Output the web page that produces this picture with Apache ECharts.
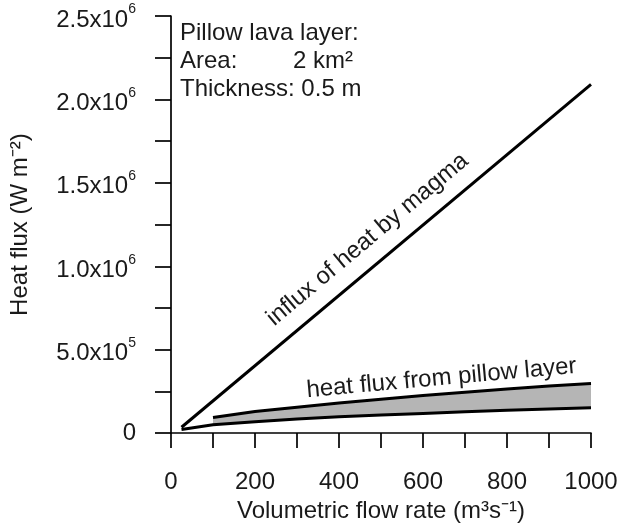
<!DOCTYPE html>
<html><head><meta charset="utf-8">
<script src="https://cdn.jsdelivr.net/npm/echarts@6/dist/echarts.min.js"></script>
<style>html,body{margin:0;padding:0;background:#fff}#c{width:627px;height:528px}</style>
</head><body><div id="c"></div>
<script>
// ---- data ----
const magmaX = [25, 1000];
const magmaY = [35000, 2090000];
const upperX = [100, 200, 300, 400, 500, 600, 700, 800, 900, 1000];
const upperY = [93000, 130000, 155000, 180000, 203000, 225000, 245000, 265000, 283000, 298000];
const lowerX = [25, 100, 200, 300, 400, 500, 600, 700, 800, 900, 1000];
const lowerY = [22000, 50000, 68000, 85000, 98000, 108000, 118000, 128000, 137000, 145000, 152000];
const xTicks = [0, 200, 400, 600, 800, 1000];
const yTicks = [0, 500000, 1000000, 1500000, 2000000, 2500000];
const infoLines = ['Pillow lava layer:', 'Area:', 'Thickness: 0.5 m'];
const areaValue = '2 km²';
const magmaLabel = 'influx of heat by magma';
const pillowLabel = 'heat flux from pillow layer';
const xTitle = 'Volumetric flow rate (m³s⁻¹)';
const yTitle = 'Heat flux (W m⁻²)';

// label anchor points (data coordinates)
const magmaLabelAt = [468, 1160000];
const pillowLabelAt = [644, 328000];

const FONT = '"Liberation Sans", Arial, Helvetica, sans-serif';
const TXT = '#1a1a1a';
const FS = 24;

// band between the two pillow-layer curves (same x positions as upper curve)
const lowerAtUpper = upperX.map(x => lowerY[lowerX.indexOf(x)]);
const bandData = upperX.map((x, i) => [x, upperY[i], lowerAtUpper[i]]);

const chart = echarts.init(document.getElementById('c'), null, {renderer: 'canvas'});

function yFmt(v) {
  if (v === 0) return '0';
  const e = Math.floor(Math.log10(v) + 1e-9);
  const m = v / Math.pow(10, e);
  return '{a|' + m.toFixed(1) + 'x10}{s|' + e + '}';
}

const option = {
  animation: false,
  backgroundColor: '#fff',
  textStyle: {fontFamily: FONT},
  grid: {left: 169.5, right: 36, top: 16, bottom: 90, containLabel: false},
  xAxis: {
    type: 'value', min: 0, max: 1000, interval: 200,
    name: xTitle, nameLocation: 'middle', nameGap: 61,
    nameTextStyle: {fontSize: FS, color: TXT, fontFamily: FONT},
    axisLine: {show: true, onZero: false, lineStyle: {color: '#000', width: 1.7}},
    axisTick: {show: true, inside: false, length: 15, lineStyle: {color: '#000', width: 1.7}},
    minorTick: {show: true, splitNumber: 2, length: 15, lineStyle: {color: '#000', width: 1.7}},
    splitLine: {show: false},
    axisLabel: {fontSize: FS, color: TXT, margin: 37, fontFamily: FONT,
      formatter: v => xTicks.includes(v) ? String(v) : ''}
  },
  yAxis: {
    type: 'value', min: 0, max: 2500000, interval: 500000,
    name: yTitle, nameLocation: 'middle', nameGap: 139, nameRotate: 90,
    nameTextStyle: {fontSize: FS, color: TXT, fontFamily: FONT},
    axisLine: {show: true, onZero: false, lineStyle: {color: '#000', width: 1.7}},
    axisTick: {show: true, inside: false, length: 16, lineStyle: {color: '#000', width: 1.7}},
    minorTick: {show: true, splitNumber: 2, length: 16, lineStyle: {color: '#000', width: 1.7}},
    splitLine: {show: false},
    axisLabel: {fontSize: FS, color: TXT, margin: 35, fontFamily: FONT,
      formatter: v => yTicks.includes(v) ? yFmt(v) : '',
      rich: {
        a: {fontSize: FS, color: TXT, fontFamily: FONT, lineHeight: 27, padding: [8, 0, 0, 0]},
        s: {fontSize: 14, color: TXT, fontFamily: FONT, verticalAlign: 'top', lineHeight: 14}
      }}
  },
  series: [
    {type: 'custom', name: 'band', data: bandData, silent: true, z: 1,
      encode: {x: 0, y: [1, 2]},
      renderItem: function (params, api) {
        if (params.dataIndex !== 0) return null;
        const top = bandData.map(d => api.coord([d[0], d[1]]));
        const bot = bandData.map(d => api.coord([d[0], d[2]])).reverse();
        return {type: 'polygon', shape: {points: top.concat(bot)},
          style: {fill: '#b5b5b5', stroke: null}};
      }},
    {type: 'line', name: 'upper', data: upperX.map((x, i) => [x, upperY[i]]), symbol: 'none',
      lineStyle: {color: '#000', width: 3}, z: 3},
    {type: 'line', name: 'lower', data: lowerX.map((x, i) => [x, lowerY[i]]), symbol: 'none',
      lineStyle: {color: '#000', width: 3}, z: 3},
    {type: 'line', name: 'magma', data: magmaX.map((x, i) => [x, magmaY[i]]), symbol: 'none',
      lineStyle: {color: '#000', width: 3}, z: 3}
  ]
};
chart.setOption(option);

function px(p) { return chart.convertToPixel({gridIndex: 0}, p); }
const m0 = px([magmaX[0], magmaY[0]]), m1 = px([magmaX[1], magmaY[1]]);
const magmaRot = Math.atan2(m0[1] - m1[1], m1[0] - m0[0]);
const u0 = px([upperX[0], upperY[0]]), u1 = px([upperX[upperX.length - 1], upperY[upperY.length - 1]]);
const pillowRot = Math.atan2(u0[1] - u1[1], u1[0] - u0[0]);
const mp = px(magmaLabelAt), pp = px(pillowLabelAt);

const txtStyle = (t, extra) => Object.assign({text: t, fill: TXT, font: FS + 'px ' + FONT}, extra || {});

chart.setOption({
  graphic: [
    {type: 'text', x: mp[0], y: mp[1], rotation: magmaRot,
      style: txtStyle(magmaLabel, {textAlign: 'center', textVerticalAlign: 'middle'})},
    {type: 'text', x: pp[0], y: pp[1], rotation: pillowRot,
      style: txtStyle(pillowLabel, {textAlign: 'center', textVerticalAlign: 'middle'})},
    {type: 'text', left: 180, top: 21, style: txtStyle(infoLines[0])},
    {type: 'text', left: 180, top: 49, style: txtStyle(infoLines[1])},
    {type: 'text', left: 180, top: 77, style: txtStyle(infoLines[2])},
    {type: 'text', left: 293, top: 49, style: txtStyle(areaValue)}
  ]
});
</script>
</body></html>
